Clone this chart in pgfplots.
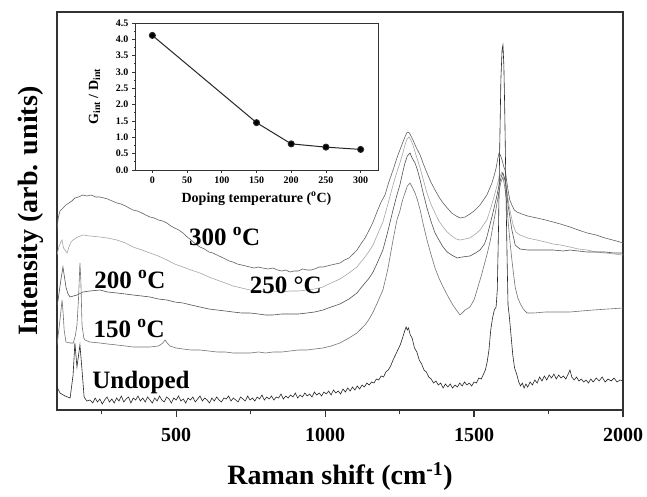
\documentclass[border=0pt]{standalone}
\usepackage{fontspec}
\setmainfont{Liberation Serif}
\usepackage{pgfplots}
\pgfplotsset{compat=1.18}
\begin{document}
\begin{tikzpicture}
\useasboundingbox (0,0) rectangle (647pt,496pt);
% ---------------- main Raman spectra ----------------
\begin{axis}[
    at={(57pt,86pt)}, anchor=south west,
    scale only axis, width=566pt, height=398pt,
    xmin=100, xmax=2000, ymin=0, ymax=398,
    xtick={500,1000,1500,2000},
    xticklabels={500,1000,1500,2000},
    minor xtick={250,750,1250,1750},
    ytick=\empty,
    xtick pos=bottom,
    tick align=outside,
    major tick length=7pt, minor tick length=4pt,
    tick style={line width=1.2pt, black!80},
    axis line style={line width=1.3pt, black!80},
    xticklabel style={font=\bfseries\fontsize{20}{20}\selectfont, yshift=-8pt},
    xlabel={Raman shift (cm\textsuperscript{-1})},
    ylabel={Intensity (arb. units)},
    every axis x label/.style={at={(axis description cs:0.5,-0.188)}, anchor=base, font=\bfseries\fontsize{28}{28}\selectfont},
    every axis y label/.style={at={(axis description cs:-0.0353,0.5)}, rotate=90, anchor=base, font=\bfseries\fontsize{28}{28}\selectfont},
    clip=true,
]
% 300 C
\addplot[black!62, line width=0.6pt] coordinates {
(100,180)(104,192)(110,199)(120,202)(130,205)(140,207)(150,209)(160,212)(172,213)(187,215)(200,214)(215,215)(230,213)(244,213)(258,212)(270,211)(285,209)(301,207)(315,206)(330,204)(342,202)(355,200)(370,199)(385,197)(398,195)(412,193)(426,192)(440,190)(455,189)(469,187)(482,184)(495,182)(509,180)(523,177)(537,173)(550,170)(565,166)(580,163)(595,161)(610,158)(623,157)(637,155)(651,153)(665,151)(678,149)(691,148)(705,146)(720,145)(734,144)(748,143)(762,142)(776,143)(790,142)(808,141)(825,142)(840,140)(855,139)(868,140)(882,138)(896,139)(910,139)(925,141)(939,140)(952,140)(965,141)(980,143)(993,143)(1007,144)(1020,145)(1035,146)(1050,147)(1065,150)(1080,152)(1094,156)(1107,160)(1120,166)(1134,172)(1148,180)(1161,188)(1174,198)(1188,208)(1201,215)(1214,228)(1228,240)(1241,252)(1251,260)(1260,267)(1268,273)(1274,277)(1278,278)(1283,277)(1290,273)(1295,270)(1305,263)(1319,255)(1330,246)(1342,237)(1355,228)(1369,220)(1382,213)(1396,207)(1410,202)(1425,197)(1440,194)(1453,192)(1470,193)(1486,196)(1500,199)(1520,205)(1543,215)(1560,227)(1568,235)(1574,242)(1580,252)(1584,257)(1588,255)(1594,250)(1600,243)(1604,240)(1609,230)(1614,220)(1620,210)(1627,205)(1635,200)(1644,198)(1660,196)(1680,194)(1711,192)(1740,190)(1765,188)(1790,186)(1822,183)(1850,180)(1880,177)(1910,175)(1940,172)(1965,170)(1990,168)(2000,167)
};
% 250 C
\addplot[black!35, line width=0.6pt] coordinates {
(100,155)(106,163)(113,168)(117,170)(122,162)(127,160)(134,157)(140,163)(147,168)(154,170)(170,173)(187,175)(210,174)(244,173)(270,172)(301,170)(330,167)(355,163)(385,160)(412,157)(440,154)(469,150)(495,146)(523,143)(550,140)(580,137)(610,133)(637,130)(665,127)(691,124)(720,122)(748,120)(776,119)(800,118)(825,119)(855,118)(882,119)(910,119)(939,120)(965,121)(993,123)(1020,127)(1050,131)(1080,137)(1107,143)(1120,148)(1134,153)(1148,159)(1161,165)(1175,175)(1194,188)(1210,205)(1228,225)(1241,238)(1251,247)(1260,256)(1268,265)(1275,271)(1282,273)(1288,270)(1295,265)(1305,255)(1319,242)(1330,230)(1342,217)(1355,206)(1369,197)(1382,189)(1396,183)(1410,178)(1425,174)(1440,171)(1453,170)(1470,171)(1486,172)(1505,176)(1520,180)(1543,190)(1554,200)(1564,210)(1575,222)(1584,232)(1594,238)(1600,234)(1604,230)(1611,218)(1617,205)(1624,195)(1631,185)(1640,178)(1654,175)(1680,172)(1711,170)(1740,168)(1765,166)(1790,165)(1822,163)(1850,161)(1880,160)(1910,158)(1940,157)(1970,156)(2000,155)
};
% 200 C
\addplot[black!68, line width=0.6pt] coordinates {
(100,103)(106,115)(113,130)(120,143)(124,135)(130,123)(137,116)(144,113)(155,114)(167,115)(187,118)(210,119)(244,120)(270,118)(301,117)(330,116)(355,115)(385,114)(412,113)(440,111)(469,110)(495,108)(523,107)(550,105)(580,103)(610,101)(637,100)(665,99)(691,98)(720,97)(748,97)(776,96)(800,95)(825,95)(855,96)(882,96)(910,96)(939,97)(965,98)(993,100)(1020,103)(1050,106)(1080,111)(1107,117)(1120,122)(1134,127)(1148,132)(1161,138)(1175,147)(1194,160)(1210,178)(1228,200)(1241,215)(1251,225)(1260,237)(1268,247)(1276,254)(1285,257)(1292,252)(1302,247)(1310,240)(1319,230)(1330,216)(1342,202)(1355,189)(1369,177)(1382,170)(1396,163)(1410,158)(1425,155)(1443,152)(1460,153)(1486,154)(1505,157)(1520,160)(1535,166)(1543,173)(1554,186)(1564,198)(1575,212)(1584,225)(1592,234)(1597,237)(1602,232)(1607,225)(1614,205)(1622,190)(1627,180)(1633,172)(1638,165)(1654,161)(1680,160)(1711,160)(1740,160)(1765,160)(1800,159)(1822,160)(1850,159)(1880,158)(1910,158)(1940,158)(1970,157)(2000,157)
};
% 150 C
\addplot[black!55, line width=0.6pt] coordinates {
(100,65)(106,80)(110,90)(117,110)(121,95)(124,80)(130,68)(144,67)(155,67)(162,75)(167,85)(172,110)(177,147)(180,130)(184,85)(190,72)(194,70)(210,68)(244,67)(270,66)(301,65)(330,64)(355,63)(385,63)(412,63)(440,64)(446,65)(455,67)(463,70)(470,67)(479,64)(500,62)(523,61)(550,60)(580,60)(610,59)(637,58)(665,58)(691,57)(720,57)(748,57)(776,58)(800,57)(825,58)(855,58)(882,59)(910,60)(939,60)(965,61)(993,62)(1020,64)(1050,67)(1080,72)(1107,77)(1120,81)(1134,85)(1148,91)(1161,98)(1175,107)(1194,120)(1210,140)(1228,170)(1241,190)(1251,199)(1260,210)(1268,217)(1276,224)(1285,227)(1292,223)(1302,217)(1310,210)(1319,200)(1330,185)(1342,170)(1355,156)(1369,142)(1382,132)(1396,123)(1410,115)(1429,105)(1443,99)(1453,95)(1470,100)(1486,103)(1500,110)(1510,120)(1525,135)(1543,155)(1555,170)(1564,185)(1572,198)(1577,207)(1585,220)(1590,228)(1597,233)(1602,225)(1607,215)(1614,190)(1620,170)(1627,150)(1633,135)(1638,123)(1646,113)(1654,107)(1665,101)(1678,97)(1700,97)(1740,98)(1780,98)(1822,98)(1860,99)(1900,100)(1950,101)(2000,102)
};
% Undoped
\addplot[black!85, line width=0.6pt] coordinates {
(100,23)(110,17)(127,14)(144,12)(154,35)(160,67)(167,43)(177,65)(184,40)(191,13)(200,9)(211,10)(220,7)(228,12)(236,8)(244,11)(252,6)(260,10)(268,13)(276,8)(284,11)(292,7)(300,12)(308,9)(316,14)(324,8)(332,11)(340,13)(348,7)(356,12)(364,10)(372,14)(380,9)(388,12)(396,8)(404,13)(412,10)(420,7)(428,12)(436,9)(444,14)(452,10)(460,8)(468,13)(476,11)(484,7)(492,12)(500,10)(508,14)(516,9)(524,11)(532,7)(540,12)(548,10)(556,13)(564,8)(572,11)(580,14)(588,9)(596,12)(604,10)(612,7)(620,12)(628,9)(636,13)(644,10)(652,8)(660,12)(668,11)(676,14)(684,9)(692,12)(700,10)(708,8)(716,13)(724,11)(732,9)(740,14)(748,10)(756,12)(764,9)(772,13)(780,11)(788,15)(796,10)(804,13)(812,11)(820,14)(828,10)(836,13)(844,12)(852,16)(860,11)(868,14)(876,12)(884,15)(892,13)(900,17)(908,12)(916,15)(924,13)(932,17)(940,14)(948,16)(956,13)(964,18)(972,15)(980,17)(988,14)(996,18)(1004,16)(1012,19)(1020,15)(1028,20)(1036,17)(1044,19)(1052,16)(1060,21)(1068,18)(1076,22)(1084,19)(1092,23)(1100,20)(1108,24)(1116,21)(1124,25)(1132,23)(1140,27)(1148,25)(1156,28)(1164,27)(1172,31)(1180,30)(1188,34)(1196,33)(1204,38)(1212,40)(1220,44)(1228,50)(1236,55)(1244,60)(1252,65)(1260,72)(1266,78)(1272,83)(1276,80)(1280,82)(1286,75)(1292,72)(1300,62)(1308,58)(1316,50)(1324,46)(1332,40)(1340,38)(1348,33)(1356,31)(1364,27)(1372,29)(1380,25)(1388,27)(1396,22)(1404,26)(1412,23)(1420,26)(1428,22)(1436,25)(1444,23)(1452,27)(1460,24)(1468,28)(1476,25)(1484,27)(1492,24)(1500,28)(1508,27)(1516,32)(1524,31)(1532,36)(1538,40)(1544,48)(1550,60)(1556,80)(1562,92)(1568,100)(1574,103)(1578,120)(1582,180)(1586,260)(1590,330)(1594,360)(1597,365)(1600,345)(1603,300)(1607,220)(1611,150)(1614,105)(1618,95)(1624,75)(1630,55)(1636,42)(1644,35)(1650,28)(1656,24)(1662,27)(1668,22)(1674,26)(1680,23)(1688,28)(1696,25)(1704,30)(1712,27)(1720,33)(1728,29)(1736,34)(1744,30)(1752,35)(1760,32)(1768,36)(1776,31)(1784,35)(1792,32)(1800,34)(1808,31)(1816,36)(1822,40)(1828,33)(1836,30)(1844,33)(1852,29)(1860,31)(1868,28)(1876,30)(1884,27)(1892,31)(1900,28)(1910,32)(1920,29)(1930,33)(1940,28)(1950,31)(1960,29)(1970,32)(1980,28)(1990,30)(2000,29)
};
\begin{scope}[font=\bfseries\fontsize{25}{25}\selectfont]
\node[anchor=base] at (axis cs:663,165) {300 \textsuperscript{o}C};
\node[anchor=base] at (axis cs:868,117) {250 °C};
\node[anchor=base] at (axis cs:345,122) {200 \textsuperscript{o}C};
\node[anchor=base] at (axis cs:342,73) {150 \textsuperscript{o}C};
\node[anchor=base] at (axis cs:382,22) {Undoped};
\end{scope}
\end{axis}
% ---------------- inset ----------------
\begin{axis}[
    at={(135pt,326pt)}, anchor=south west,
    scale only axis, width=243pt, height=147pt,
    xmin=-25, xmax=325, ymin=0, ymax=4.5,
    xtick={0,50,100,150,200,250,300},
    xticklabels={0,50,100,150,200,250,300},
    ytick={0,0.5,1,1.5,2,2.5,3,3.5,4,4.5},
    yticklabels={0.0,0.5,1.0,1.5,2.0,2.5,3.0,3.5,4.0,4.5},
    minor x tick num=1, minor y tick num=1,
    xtick pos=bottom, ytick pos=left,
    tick align=outside,
    major tick length=3pt, minor tick length=1.5pt,
    tick style={line width=0.7pt, black!80},
    axis line style={line width=0.9pt, black!80},
    axis background/.style={fill=white},
    ticklabel style={font=\bfseries\fontsize{10}{10}\selectfont},
    xlabel={Doping temperature (\textsuperscript{o}C)},
    ylabel={G\textsubscript{int} / D\textsubscript{int}},
    every axis x label/.style={at={(axis description cs:0.5,-0.218)}, anchor=base, font=\bfseries\fontsize{14}{14}\selectfont},
    every axis y label/.style={at={(axis description cs:-0.152,0.5)}, rotate=90, anchor=base, font=\bfseries\fontsize{14}{14}\selectfont},
]
\addplot[black!85, line width=1pt, mark=*, mark size=3pt, mark options={fill=black}] coordinates {
(0,4.12)(150,1.45)(200,0.80)(250,0.70)(300,0.63)
};
\end{axis}
\end{tikzpicture}
\end{document}
